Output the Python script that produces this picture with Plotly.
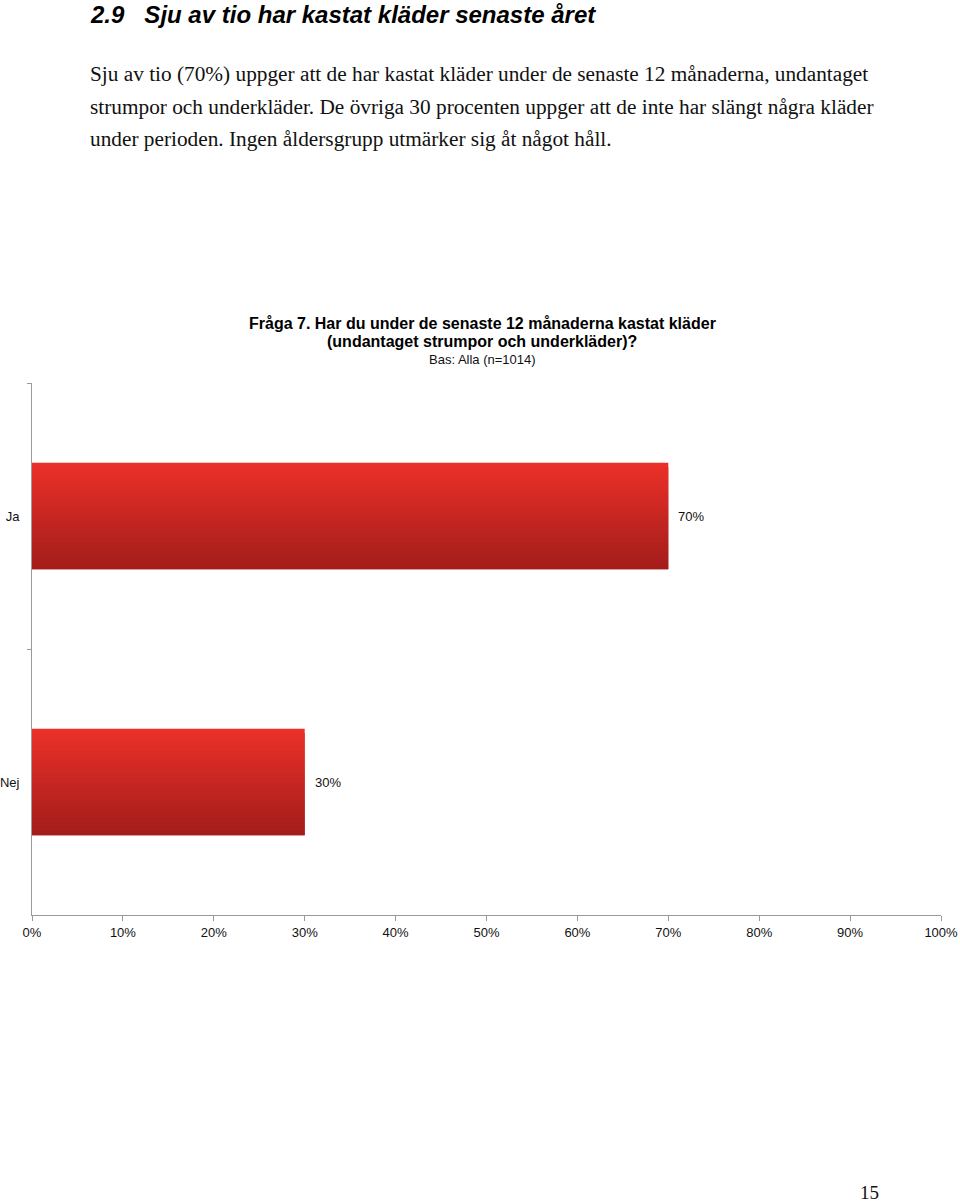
import plotly.graph_objects as go

# data
categories = ["Ja", "Nej"]
values = [0.70, 0.30]
x_ticks = [0, 0.1, 0.2, 0.3, 0.4, 0.5, 0.6, 0.7, 0.8, 0.9, 1.0]
x_ticklabels = ["0%", "10%", "20%", "30%", "40%", "50%", "60%", "70%", "80%", "90%", "100%"]

heading = "2.9   Sju av tio har kastat kläder senaste året"
body_lines = [
    "Sju av tio (70%) uppger att de har kastat kläder under de senaste 12 månaderna, undantaget",
    "strumpor och underkläder. De övriga 30 procenten uppger att de inte har slängt några kläder",
    "under perioden. Ingen åldersgrupp utmärker sig åt något håll.",
]
chart_title = ["Fråga 7. Har du under de senaste 12 månaderna kastat kläder",
               "(undantaget strumpor och underkläder)?"]
chart_sub = "Bas: Alla (n=1014)"
page_no = "15"

W, H = 960, 1202


def px(x):
    return x / W


def py(y):
    return 1 - y / H


def mix(c1, c2, t):
    return "rgb(%d,%d,%d)" % tuple(round(a + (b - a) * t) for a, b in zip(c1, c2))


top_col = (234, 48, 41)
bot_col = (164, 29, 26)

fig = go.Figure()

# gradient bars: thin slices across the bar thickness, each overlapping the next
n = 24
bw = 0.40
for i in range(n):
    w = bw / n if i == n - 1 else 2 * bw / n
    fig.add_bar(
        x=values, y=categories, orientation="h",
        width=w, offset=-bw / 2 + i * bw / n,
        marker=dict(color=mix(top_col, bot_col, i / (n - 1)), line=dict(width=0)),
        hoverinfo="skip", showlegend=False,
    )

for c, v in zip(categories, values):
    fig.add_annotation(x=v, y=c, xref="x", yref="y", text=f"{v:.0%}",
                       showarrow=False, xanchor="left", xshift=8,
                       font=dict(family="Liberation Sans, Arial", size=13, color="#111"))

fig.update_layout(
    width=W, height=H, barmode="overlay",
    margin=dict(l=0, r=0, t=0, b=0, autoexpand=False),
    paper_bgcolor="white", plot_bgcolor="white",
    font=dict(family="Liberation Sans, Arial", size=13, color="#111"),
    xaxis=dict(domain=[px(32), px(941)], range=[0, 1], tickvals=x_ticks, ticktext=x_ticklabels,
               showgrid=False, zeroline=False, showline=True, linecolor="#9a9a9a", linewidth=1,
               ticks="outside", ticklen=5, tickcolor="#9a9a9a", ticklabelstandoff=0,
               automargin=False),
    yaxis=dict(domain=[py(915), py(383)], type="category", categoryarray=categories,
               autorange="reversed", showgrid=False, zeroline=False, showline=True,
               linecolor="#9a9a9a", linewidth=1, ticks="outside", ticklen=4,
               tickcolor="#9a9a9a", tickson="boundaries", ticklabelstandoff=9,
               automargin=False),
)

# page text
fig.add_annotation(x=px(88), y=py(15), xref="paper", yref="paper", xanchor="left", yanchor="middle",
                   text="<b><i>" + heading + "</i></b>", showarrow=False,
                   font=dict(family="Liberation Sans, Arial", size=24, color="#000"))
for k, line in enumerate(body_lines):
    fig.add_annotation(x=px(88), y=py(74 + k * 32.5), xref="paper", yref="paper",
                       xanchor="left", yanchor="middle", text=line, showarrow=False,
                       font=dict(family="Liberation Serif, Times New Roman", size=21.3, color="#111"))
for k, line in enumerate(chart_title):
    fig.add_annotation(x=px(482), y=py(323 + k * 19), xref="paper", yref="paper",
                       xanchor="center", yanchor="middle", text="<b>" + line + "</b>", showarrow=False,
                       font=dict(family="Liberation Sans, Arial", size=16, color="#000"))
fig.add_annotation(x=px(482), y=py(360), xref="paper", yref="paper", xanchor="center",
                   yanchor="middle", text=chart_sub, showarrow=False,
                   font=dict(family="Liberation Sans, Arial", size=13, color="#111"))
fig.add_annotation(x=px(869), y=py(1192), xref="paper", yref="paper", xanchor="center",
                   yanchor="middle", text=page_no, showarrow=False,
                   font=dict(family="Liberation Serif, Times New Roman", size=19, color="#111"))

# page has no body margin, so the figure sits at the window's top-left corner
fig.write_html("out.html", config={"displayModeBar": False},
               post_script="document.body.style.margin = '0';")
